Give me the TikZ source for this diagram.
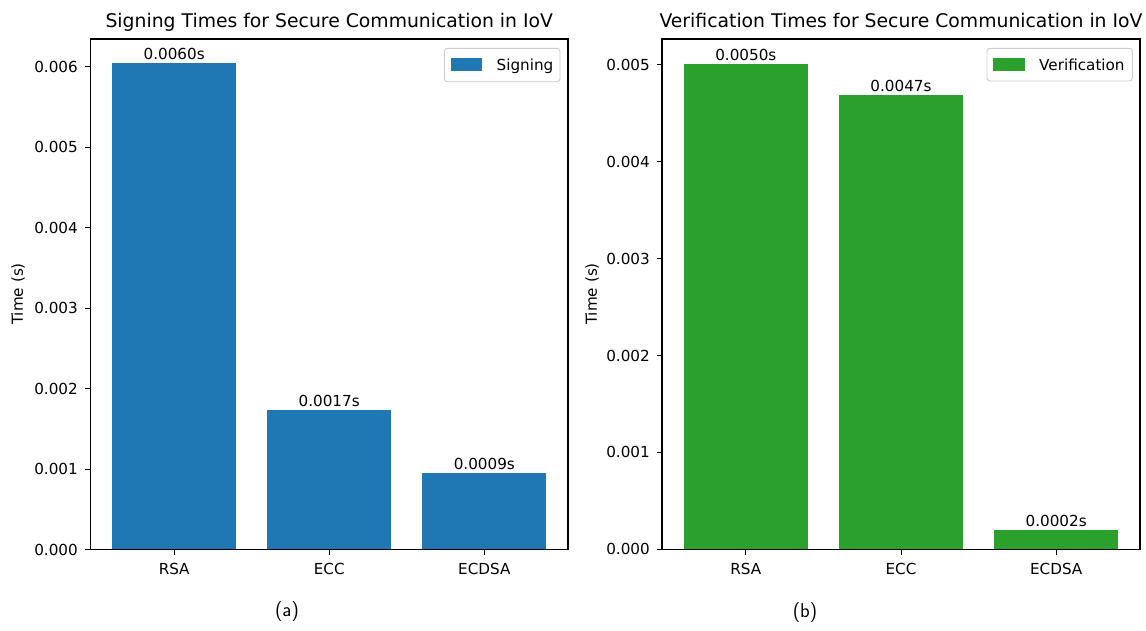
\documentclass[tikz,border=0pt]{standalone}
\usepackage{fontspec}
\setmainfont{DejaVu Sans}
\definecolor{mblue}{HTML}{1F77B4}
\definecolor{mgreen}{HTML}{2CA02C}
\definecolor{legedge}{gray}{0.8}
\begin{document}
\begin{tikzpicture}[x=1pt,y=-1pt,
  txt/.style={inner sep=0pt,font=\fontsize{15.2}{18}\selectfont},
  ttl/.style={inner sep=0pt,anchor=base,font=\fontsize{18.8}{22}\selectfont},
  ytl/.style={txt,anchor=east},
  xtl/.style={txt,anchor=north},
  vlab/.style={txt,anchor=base},
  spine/.style={line width=1.1pt,black},
  tickm/.style={line width=0.9pt,black},
  legbox/.style={draw=legedge,fill=white,rounded corners=3pt,line width=0.9pt},
  capt/.style={inner sep=0pt,font=\sffamily\fontsize{20}{24}\selectfont}]
\useasboundingbox (0,0) rectangle (1146,630);
\fill[white] (0,0) rectangle (1146,630);

% ---------------- Left panel ----------------
\fill[mblue] (112.2,549.5) rectangle (236.2,63.3);
\fill[mblue] (267.2,549.5) rectangle (391.2,410.2);
\fill[mblue] (422.3,549.5) rectangle (546.3,473.3);
\draw[spine] (90.5,39) rectangle (568,549.5);
\foreach \y/\l in {549.5/0.000,469/0.001,388.5/0.002,308/0.003,227.5/0.004,147/0.005,66.5/0.006}{
  \draw[tickm] (85,\y) -- (90.5,\y);
  \node[ytl] at (78,\y) {\l};
}
\foreach \x/\l in {174.2/RSA,329.2/ECC,484.3/ECDSA}{
  \draw[tickm] (\x,549.5) -- (\x,555);
  \node[xtl] at (\x,563) {\l};
}
\node[vlab] (la1) at (174.2,59.8) {0.0060s};
\node[vlab] (la2) at (329.2,406.7) {0.0017s};
\node[vlab] (la3) at (484.3,469.8) {0.0009s};
\node[ttl] (t1) at (329.25,27) {Signing Times for Secure Communication in IoV};
\node[txt,rotate=90] (yl1) at (18,294) {Time (s)};
\draw[legbox] (444.3,48.3) rectangle (560,81.7);
\fill[mblue] (450.7,58.3) rectangle (482.3,70.7);
\node[txt,anchor=base west] (lg1) at (496.5,70) {Signing};
\node[capt] (ca) at (287,611) {(a)};

% ---------------- Right panel ----------------
\fill[mgreen] (683.7,549.2) rectangle (807.9,63.5);
\fill[mgreen] (838.9,549.2) rectangle (963.1,94.5);
\fill[mgreen] (994.1,549.2) rectangle (1118.3,529.8);
\draw[spine] (662,39) rectangle (1140,549.2);
\foreach \y/\l in {549.2/0.000,452.3/0.001,355.5/0.002,258.6/0.003,161.7/0.004,64.8/0.005}{
  \draw[tickm] (656.5,\y) -- (662,\y);
  \node[ytl] at (650,\y) {\l};
}
\foreach \x/\l in {745.8/RSA,901/ECC,1056.2/ECDSA}{
  \draw[tickm] (\x,549.2) -- (\x,554.7);
  \node[xtl] at (\x,563) {\l};
}
\node[vlab] (lb1) at (745.8,60) {0.0050s};
\node[vlab] (lb2) at (901,91) {0.0047s};
\node[vlab] (lb3) at (1056.2,526.3) {0.0002s};
\node[ttl] (t2) at (901,27) {Verification Times for Secure Communication in IoV};
\node[txt,rotate=90] (yl2) at (592,294) {Time (s)};
\draw[legbox] (987,48.3) rectangle (1132.4,81);
\fill[mgreen] (993.4,58.3) rectangle (1025,70.7);
\node[txt,anchor=base west] (lg2) at (1039,70) {Verification};
\node[capt] (cb) at (805,612) {(b)};
\end{tikzpicture}
\end{document}
